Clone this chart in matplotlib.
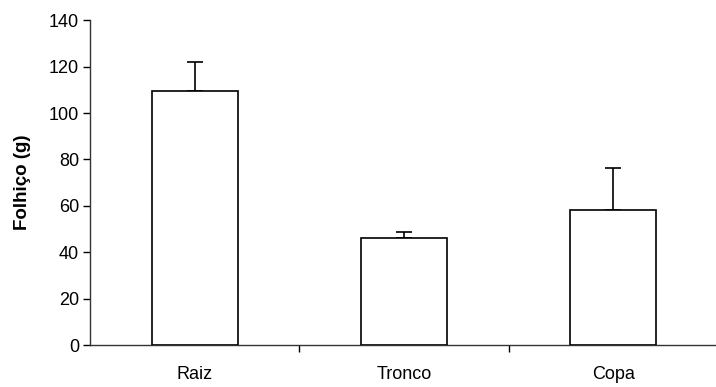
import numpy as np
import matplotlib
matplotlib.use('Agg')
import matplotlib.pyplot as plt

categories = ['Raiz', 'Tronco', 'Copa']
means = [109.5, 46.2, 58.3]
errors = [12.5, 2.7, 18.0]
yticks = [0, 20, 40, 60, 80, 100, 120, 140]

plt.rcParams['font.family'] = ['Liberation Sans', 'DejaVu Sans']

fig = plt.figure(figsize=(7.16, 3.87), dpi=100)
ax = fig.add_axes([90/716, 42/387, 626/716, 324.7/387])

x = np.arange(len(categories))
ax.bar(x, means, width=0.41, color='white', edgecolor='black', linewidth=1.2, zorder=3)
ax.errorbar(x, means, yerr=[np.zeros(len(errors)), errors], fmt='none',
            ecolor='black', elinewidth=1.2, capsize=5.5, capthick=1.2, zorder=2)

ax.set_xlim(-0.5, 2.49)
ax.set_ylim(0, 140)
ax.set_yticks(yticks)
ax.set_xticks(x)
ax.set_xticklabels(categories, fontsize=13)
ax.tick_params(axis='x', length=0, pad=15)
ax.set_xticks([0.5, 1.5], minor=True)
ax.tick_params(axis='x', which='minor', length=5, direction='out', width=1)
ax.tick_params(axis='y', length=5, direction='out', width=1, labelsize=13, pad=3)

for s in ['top', 'right']:
    ax.spines[s].set_visible(False)
for s in ['left', 'bottom']:
    ax.spines[s].set_linewidth(1)
    ax.spines[s].set_color('#333333')

ax.set_ylabel('Folhiço (g)', fontsize=13.5, fontweight='bold', labelpad=13)

fig.savefig('out.png', dpi=100)
